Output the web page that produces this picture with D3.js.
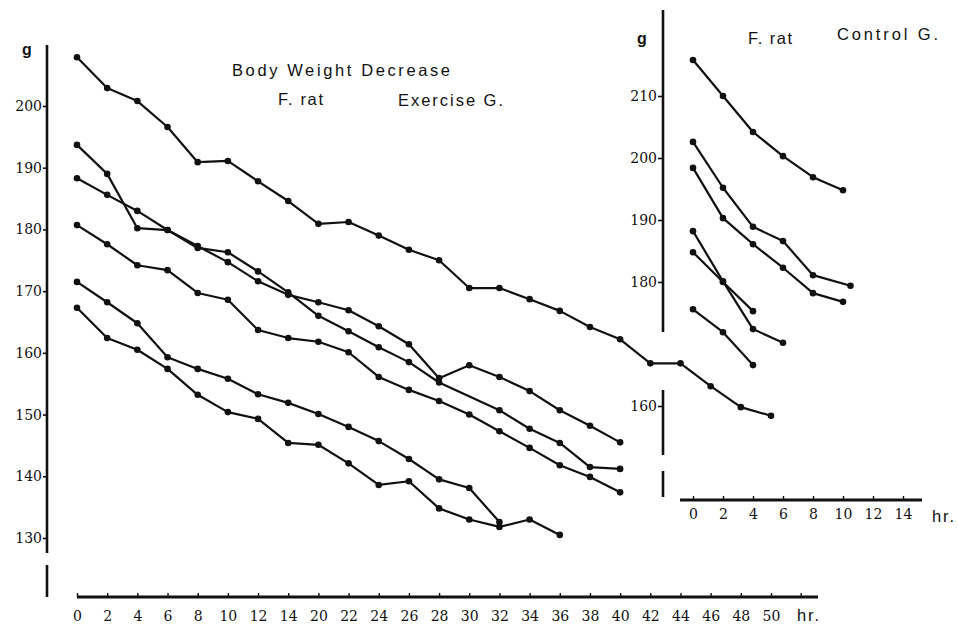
<!DOCTYPE html>
<html>
<head>
<meta charset="utf-8">
<script src="https://cdn.jsdelivr.net/npm/d3@7"></script>
<style>
  html, body { margin: 0; padding: 0; background: #fff; }
  svg { display: block; }
  .num { font-family: "DejaVu Serif", serif; font-size: 14px; fill: #111; }
  .lab { font-family: "Liberation Sans", Arial, sans-serif; font-size: 16.5px; fill: #111; }
</style>
</head>
<body>
<script>
// Time points (hr) of the exercise group; the axis skips 16-18 hr
const exHours = [0, 2, 4, 6, 8, 10, 12, 14, 20, 22, 24, 26, 28, 30, 32, 34, 36, 38, 40, 42, 44, 46, 48, 50];
const exTickLabels = ["0", "2", "4", "6", "8", "10", "12", "14", "20", "22", "24", "26", "28", "30", "32", "34", "36", "38", "40", "42", "44", "46", "48", "50"];
const exYTicks = [200, 190, 180, 170, 160, 150, 140, 130];

// Body weight (g) of each exercised rat; null = not weighed
const exRat1 = [207.9, 202.9, 200.8, 196.6, 190.9, 191.1, 187.8, 184.6, 180.9, 181.2, 179.0, 176.7, 175.0, 170.5, 170.5, 168.7, 166.8, 164.2, 162.2, 158.3, 158.3, 154.6, 151.2, 149.8];
const exRat2 = [193.7, 189.0, 180.2, 179.9, 177.0, 176.3, 173.2, 169.8, 166.0, 163.5, 160.9, 158.5, 155.2, null, 150.7, 147.7, 145.4, 141.5, 141.2];
const exRat3 = [188.3, 185.6, 183.0, 179.9, 177.3, 174.7, 171.6, 169.4, 168.2, 166.9, 164.3, 161.4, 155.9, 158.0, 156.1, 153.8, 150.7, 148.2, 145.5];
const exRat4 = [180.7, 177.6, 174.2, 173.4, 169.7, 168.6, 163.7, 162.4, 161.8, 160.1, 156.1, 154.0, 152.2, 150.0, 147.3, 144.6, 141.8, 139.9, 137.4];
const exRat5 = [171.5, 168.2, 164.8, 159.3, 157.4, 155.8, 153.3, 151.9, 150.1, 148.0, 145.7, 142.8, 139.5, 138.1, 132.6];
const exRat6 = [167.3, 162.4, 160.5, 157.4, 153.2, 150.4, 149.3, 145.4, 145.1, 142.1, 138.6, 139.2, 134.8, 133.0, 131.8, 133.0, 130.5];

// Control group
const ctlXTicks = [0, 2, 4, 6, 8, 10, 12, 14];
const ctlYTicks = [210, 200, 190, 180, 160];
const ctlHours1 = [0, 2, 4, 6, 8, 10];
const ctlRat1 = [215.8, 210.0, 204.2, 200.3, 196.9, 194.8];
const ctlHours2 = [0, 2, 4, 6, 8, 10.5];
const ctlRat2 = [202.6, 195.2, 188.9, 186.6, 181.1, 179.4];
const ctlHours3 = [0, 2, 4, 6, 8, 10];
const ctlRat3 = [198.4, 190.3, 186.1, 182.3, 178.2, 176.8];
const ctlHours4 = [0, 2, 4, 6];
const ctlRat4 = [188.2, 180.1, 172.4, 170.2];
const ctlHours5 = [0, 2, 4];
const ctlRat5 = [184.8, 180.0, 175.3];
const ctlHours6 = [0, 2, 4];
const ctlRat6 = [175.6, 171.9, 166.6];

const W = 958, H = 628;
const ink = "#111";

const svg = d3.select("body").append("svg")
  .attr("width", W).attr("height", H)
  .attr("viewBox", `0 0 ${W} ${H}`);
svg.append("rect").attr("width", W).attr("height", H).attr("fill", "#fff");

// ---------- exercise group (left panel) ----------
const xEx = d3.scalePoint().domain(exTickLabels).range([77, 771]);
const yEx = d3.scaleLinear().domain([130, 200]).range([538, 106]);

const line = d3.line().x(d => d[0]).y(d => d[1]);

function drawSeries(g, pts) {
  g.append("path").attr("d", line(pts))
    .attr("fill", "none").attr("stroke", ink)
    .attr("stroke-width", 2.2).attr("stroke-linejoin", "round");
  g.selectAll(null).data(pts).enter().append("circle")
    .attr("cx", d => d[0]).attr("cy", d => d[1]).attr("r", 3.3).attr("fill", ink);
}

const exG = svg.append("g");
[exRat1, exRat2, exRat3, exRat4, exRat5, exRat6].forEach(vals => {
  const pts = vals.map((v, i) => v == null ? null : [xEx(String(exHours[i])), yEx(v)])
    .filter(p => p);
  drawSeries(exG, pts);
});

// y axis (broken near the bottom)
const yAxL = svg.append("g").attr("transform", "translate(47,0)")
  .call(d3.axisLeft(yEx).tickValues(exYTicks).tickSize(4).tickPadding(1));
yAxL.select(".domain").remove();
yAxL.selectAll(".tick line").attr("stroke", ink).attr("stroke-width", 1.6);
yAxL.selectAll(".tick text").attr("class", "num");
[[45, 553], [565, 597]].forEach(([a, b]) => {
  svg.append("line").attr("x1", 47).attr("x2", 47).attr("y1", a).attr("y2", b)
    .attr("stroke", ink).attr("stroke-width", 2.6);
});

// x axis
const xAxL = svg.append("g").attr("transform", "translate(0,597)")
  .call(d3.axisBottom(xEx).tickSize(-4).tickPadding(14));
xAxL.select(".domain").remove();
xAxL.selectAll(".tick line").attr("stroke", ink).attr("stroke-width", 1.4);
xAxL.selectAll(".tick text").attr("class", "num");
const endTick = xEx("50") + xEx.step();
svg.append("line").attr("x1", endTick).attr("x2", endTick).attr("y1", 593).attr("y2", 597)
  .attr("stroke", ink).attr("stroke-width", 1.4);
svg.append("line").attr("x1", 77).attr("x2", 818).attr("y1", 597).attr("y2", 597)
  .attr("stroke", ink).attr("stroke-width", 3);

// ---------- control group (right panel) ----------
const xCt = d3.scaleLinear().domain([0, 14]).range([693, 903]);
const yCt = d3.scaleLinear().domain([160, 210]).range([406, 96]);

const ctG = svg.append("g");
[[ctlHours1, ctlRat1], [ctlHours2, ctlRat2], [ctlHours3, ctlRat3],
 [ctlHours4, ctlRat4], [ctlHours5, ctlRat5], [ctlHours6, ctlRat6]].forEach(([hs, vs]) => {
  drawSeries(ctG, hs.map((h, i) => [xCt(h), yCt(vs[i])]));
});

const yAxR = svg.append("g").attr("transform", "translate(663,0)")
  .call(d3.axisLeft(yCt).tickValues(ctlYTicks).tickSize(5).tickPadding(1));
yAxR.select(".domain").remove();
yAxR.selectAll(".tick line").attr("stroke", ink).attr("stroke-width", 1.6);
yAxR.selectAll(".tick text").attr("class", "num");
[[10, 332], [390, 455], [471, 497]].forEach(([a, b]) => {
  svg.append("line").attr("x1", 663).attr("x2", 663).attr("y1", a).attr("y2", b)
    .attr("stroke", ink).attr("stroke-width", 2.6);
});

const xAxR = svg.append("g").attr("transform", "translate(0,500)")
  .call(d3.axisBottom(xCt).tickValues(ctlXTicks).tickSize(-4).tickPadding(9));
xAxR.select(".domain").remove();
xAxR.selectAll(".tick line").attr("stroke", ink).attr("stroke-width", 1.4);
xAxR.selectAll(".tick text").attr("class", "num");
svg.append("line").attr("x1", 680).attr("x2", 922).attr("y1", 500).attr("y2", 500)
  .attr("stroke", ink).attr("stroke-width", 3);

// ---------- labels ----------
function label(txt, x, y, len, opts = {}) {
  const t = svg.append("text").attr("class", "lab").attr("x", x).attr("y", y).text(txt);
  if (len) t.attr("textLength", len).attr("lengthAdjust", "spacing");
  if (opts.weight) t.style("font-weight", opts.weight);
  if (opts.size) t.style("font-size", opts.size + "px");
  return t;
}
label("Body Weight Decrease", 232, 76, 218);
label("F. rat", 278, 105, 45);
label("Exercise G.", 398, 106, 105);
label("F. rat", 748, 44, 44);
label("Control G.", 837, 40, 101);
label("g", 22, 55, null, { weight: "bold", size: 16 });
label("g", 637, 44, null, { weight: "bold", size: 16 });
label("hr.", 797, 621, 22);
label("hr.", 932, 522, 22);
</script>
</body>
</html>
